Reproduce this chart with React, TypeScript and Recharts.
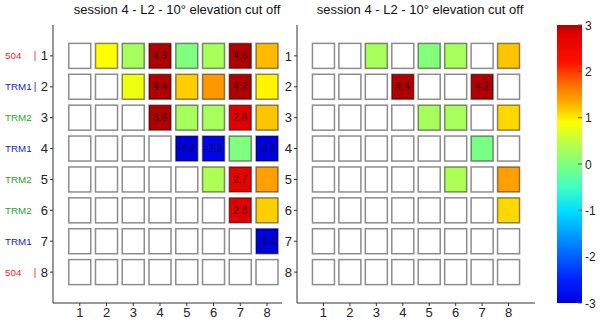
import React from 'react';
import { ScatterChart, Scatter, XAxis, YAxis, ReferenceArea } from 'recharts';

const columns = [1, 2, 3, 4, 5, 6, 7, 8];
const rows = [1, 2, 3, 4, 5, 6, 7, 8];
const rowNames = ['504', 'TRM1', 'TRM2', 'TRM1', 'TRM2', 'TRM2', 'TRM1', '504'];
const rowBars = [true, true, false, false, false, false, false, true];
const colorbarTicks = [-3, -2, -1, 0, 1, 2, 3];
const title = 'session 4 - L2 - 10° elevation cut off';

// null = empty (white) cell
const leftValues: (number | null)[][] = [
  [null, 0.9, 0.3, 4.9, 0.0, 0.3, 4.6, 1.25],
  [null, null, 0.8, 4.4, 1.15, 1.45, 4.2, 0.95],
  [null, null, null, 3.6, 0.3, 0.3, 2.8, 1.2],
  [null, null, null, null, -3.2, -2.9, 0.0, -3.3],
  [null, null, null, null, null, 0.35, 2.7, 1.4],
  [null, null, null, null, null, null, 2.8, 1.15],
  [null, null, null, null, null, null, null, -3.4],
  [null, null, null, null, null, null, null, null],
];

const rightValues: (number | null)[][] = [
  [null, null, 0.3, null, 0.05, 0.3, null, 1.2],
  [null, null, null, 4.4, null, null, 4.2, null],
  [null, null, null, null, 0.3, 0.3, null, 1.1],
  [null, null, null, null, null, null, -0.05, null],
  [null, null, null, null, null, 0.35, null, 1.4],
  [null, null, null, null, null, null, null, 1.1],
  [null, null, null, null, null, null, null, null],
  [null, null, null, null, null, null, null, null],
];

// jet-like colormap, clamped to [-3, 3]
const cmapStops: [number, string][] = [
  [-3, '#0000dd'],
  [-2.5, '#0020ff'],
  [-2, '#0060ff'],
  [-1.5, '#00a0ff'],
  [-1, '#00e0ff'],
  [-0.5, '#40ffc0'],
  [0, '#80ff80'],
  [0.5, '#c0ff40'],
  [0.9, '#ffff00'],
  [1.3, '#ffb000'],
  [1.7, '#ff7000'],
  [2.2, '#ff1000'],
  [2.8, '#e00000'],
  [3, '#b00000'],
];

const groupColors: Record<string, string> = {
  '504': '#e8262a',
  TRM1: '#2222c8',
  TRM2: '#2aa62a',
};

const hex = (c: string) => [1, 3, 5].map((i) => parseInt(c.slice(i, i + 2), 16));

function colorFor(v: number) {
  const t = Math.max(-3, Math.min(3, v));
  for (let i = 1; i < cmapStops.length; i++) {
    const [v1, c1] = cmapStops[i];
    if (t <= v1) {
      const [v0, c0] = cmapStops[i - 1];
      const f = (t - v0) / (v1 - v0);
      const a = hex(c0);
      const b = hex(c1);
      return `rgb(${a.map((x, k) => Math.round(x + (b[k] - x) * f)).join(',')})`;
    }
  }
  return cmapStops[cmapStops.length - 1][1];
}

const toPoints = (values: (number | null)[][]) =>
  rows.flatMap((r, ri) => columns.map((c, ci) => ({ x: c, y: r, v: values[ri][ci] })));

const CellBox = (props: any) => {
  const { cx, cy, payload } = props;
  const v = payload.v as number | null;
  const fill = v == null ? '#ffffff' : colorFor(v);
  return (
    <g>
      <rect
        x={cx - 11}
        y={cy - 12.5}
        width={22}
        height={25}
        fill={fill}
        stroke='rgba(0,0,0,0.45)'
        strokeWidth={1.5}
      />
      {v != null && Math.abs(v) >= 2.5 ? (
        <text x={cx} y={cy + 3.5} textAnchor='middle' fontSize={10} fill='#000' fillOpacity={0.72}>
          {v.toFixed(1)}
        </text>
      ) : null}
    </g>
  );
};

const LeftRowTick = (props: any) => {
  const { x, y, payload } = props;
  const i = payload.value - 1;
  const name = rowNames[i];
  const color = groupColors[name];
  return (
    <g>
      <text x={x} y={y} dy={4.5} textAnchor='end' fontSize={13} fill='#222'>
        {payload.value}
      </text>
      {name ? (
        <text x={5} y={y} dy={3.5} fontSize={9.8} fill={color}>
          {name}
        </text>
      ) : null}
      {rowBars[i] ? (
        <text x={35} y={y} dy={3.5} textAnchor='middle' fontSize={10} fill={color}>
          |
        </text>
      ) : null}
    </g>
  );
};

const ColorbarTick = (props: any) => {
  const { x, y, payload } = props;
  return (
    <g>
      <line x1={x - 7} x2={x - 3} y1={y} y2={y} stroke='#555' strokeWidth={1} />
      <text x={x} y={y} dy={4.5} textAnchor='start' fontSize={12} fill='#222'>
        {payload.value}
      </text>
    </g>
  );
};

const NoMark = () => <g />;

function Panel({
  values,
  left,
  xMax,
  yAxisWidth,
  marginRight,
  rowTick,
}: {
  values: (number | null)[][];
  left: number;
  xMax: number;
  yAxisWidth: number;
  marginRight: number;
  rowTick?: any;
}) {
  return (
    <div style={{ position: 'absolute', left, top: 0 }}>
      <ScatterChart width={300} height={324} margin={{ top: 25, right: marginRight, bottom: 0, left: 0 }}>
        <XAxis
          type='number'
          dataKey='x'
          domain={[0, xMax]}
          ticks={columns}
          allowDataOverflow
          height={21}
          tickSize={3}
          tickMargin={2}
          stroke='#333'
          tick={{ fill: '#222', fontSize: 13 }}
        />
        <YAxis
          type='number'
          dataKey='y'
          domain={[0, 9]}
          ticks={rows}
          reversed
          allowDataOverflow
          width={yAxisWidth}
          tickSize={3}
          tickMargin={2}
          stroke='#333'
          tick={rowTick ?? { fill: '#222', fontSize: 13 }}
        />
        <Scatter data={toPoints(values)} shape={CellBox} isAnimationActive={false} />
      </ScatterChart>
    </div>
  );
}

function Colorbar() {
  const tickPoints = colorbarTicks.map((v) => ({ x: 0.5, y: v }));
  return (
    <div style={{ position: 'absolute', left: 540, top: 0 }}>
      <ScatterChart width={60} height={324} margin={{ top: 25, right: 0, bottom: 21, left: 17 }}>
        <defs>
          <linearGradient id='cbar' x1='0' y1='0' x2='0' y2='1'>
            {cmapStops
              .slice()
              .reverse()
              .map(([v, c]) => (
                <stop key={v} offset={(3 - v) / 6} stopColor={c} />
              ))}
          </linearGradient>
        </defs>
        <XAxis type='number' dataKey='x' domain={[0, 1]} hide />
        <YAxis
          type='number'
          dataKey='y'
          orientation='right'
          domain={[-3, 3]}
          ticks={colorbarTicks}
          width={18}
          axisLine={false}
          tickLine={false}
          tickSize={0}
          tickMargin={3}
          tick={<ColorbarTick />}
        />
        <ReferenceArea x1={0} x2={1} y1={-3} y2={3} fill='url(#cbar)' fillOpacity={1} stroke='none' ifOverflow='visible' />
        <Scatter data={tickPoints} shape={NoMark} isAnimationActive={false} />
      </ScatterChart>
    </div>
  );
}

export default function App() {
  return (
    <div
      style={{
        position: 'absolute',
        left: 0,
        top: 0,
        width: 600,
        height: 324,
        background: '#fff',
        fontFamily: '"Liberation Sans", Arial, sans-serif',
      }}
    >
      <div style={{ position: 'absolute', left: 0, top: 2, width: 354, textAlign: 'center', fontSize: 13, lineHeight: '15px', color: '#111' }}>
        {title}
      </div>
      <div style={{ position: 'absolute', left: 270, top: 2, width: 300, textAlign: 'center', fontSize: 13, lineHeight: '15px', color: '#111' }}>
        {title}
      </div>
      <Panel values={leftValues} left={0} xMax={8.56} yAxisWidth={53} marginRight={18} rowTick={<LeftRowTick />} />
      <Panel values={rightValues} left={250} xMax={9} yAxisWidth={47} marginRight={15} />
      <Colorbar />
    </div>
  );
}
